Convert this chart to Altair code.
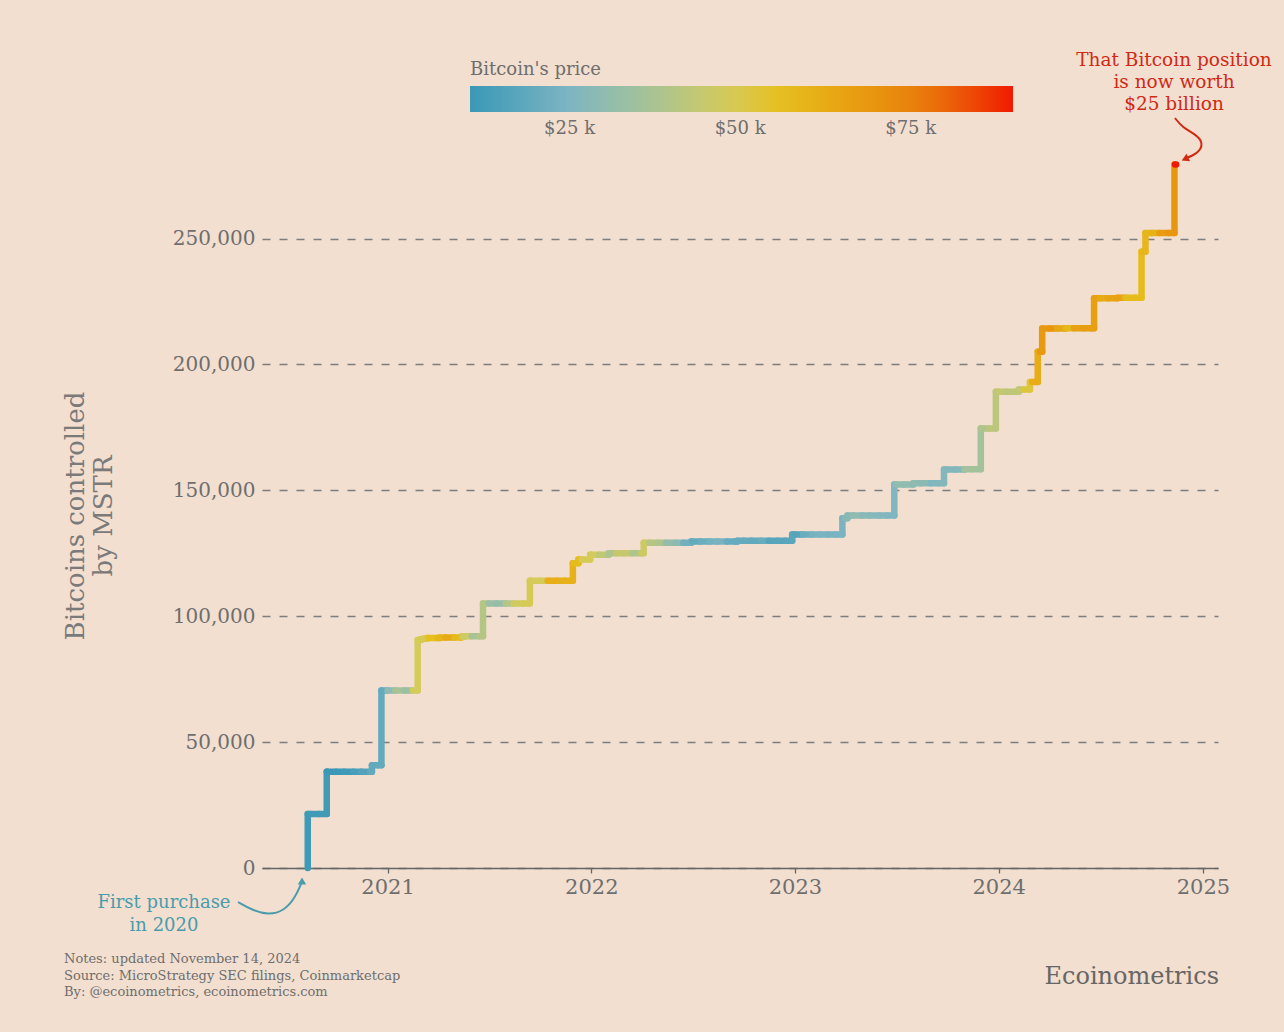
import altair as alt
import pandas as pd

# ---------------- data ----------------
purchase_dates = ["2020-08-11", "2020-09-14", "2020-12-04", "2020-12-21", "2021-02-24", "2021-03-01",
                  "2021-03-05", "2021-03-12", "2021-04-05", "2021-05-13", "2021-05-18", "2021-06-21",
                  "2021-09-13", "2021-11-29", "2021-12-09", "2021-12-30", "2022-02-01", "2022-04-05",
                  "2022-06-29", "2022-09-20", "2022-12-27", "2023-03-27", "2023-04-05", "2023-06-28",
                  "2023-08-01", "2023-09-25", "2023-11-01", "2023-11-30", "2023-12-27", "2024-02-06",
                  "2024-02-26", "2024-03-11", "2024-03-19", "2024-04-29", "2024-06-20", "2024-08-01",
                  "2024-09-13", "2024-09-20", "2024-11-11"]
btc_held = [21454, 38250, 40824, 70470, 90531, 90859,
            91064, 91326, 91579, 91850, 92079, 105085,
            114042, 121044, 122478, 124391, 125051, 129218,
            129699, 130000, 132500, 138955, 140000, 152333,
            152800, 158245, 158400, 174530, 189150, 190000,
            193000, 205000, 214246, 214400, 226331, 226500,
            244800, 252220, 279420]
last_update = "2024-11-14"

price_dates = ["2020-08-01", "2020-08-15", "2020-09-01", "2020-09-15", "2020-10-01", "2020-10-15",
               "2020-11-01", "2020-11-15", "2020-12-01", "2020-12-15",
               "2021-01-01", "2021-01-15", "2021-02-01", "2021-02-15", "2021-03-01", "2021-03-15",
               "2021-04-01", "2021-04-15", "2021-05-01", "2021-05-15", "2021-06-01", "2021-06-15",
               "2021-07-01", "2021-07-15", "2021-08-01", "2021-08-15", "2021-09-01", "2021-09-15",
               "2021-10-01", "2021-10-15", "2021-11-01", "2021-11-15", "2021-12-01", "2021-12-15",
               "2022-01-01", "2022-01-15", "2022-02-01", "2022-02-15", "2022-03-01", "2022-03-15",
               "2022-04-01", "2022-04-15", "2022-05-01", "2022-05-15", "2022-06-01", "2022-06-15",
               "2022-07-01", "2022-07-15", "2022-08-01", "2022-08-15", "2022-09-01", "2022-09-15",
               "2022-10-01", "2022-10-15", "2022-11-01", "2022-11-15", "2022-12-01", "2022-12-15",
               "2023-01-01", "2023-01-15", "2023-02-01", "2023-02-15", "2023-03-01", "2023-03-15",
               "2023-04-01", "2023-04-15", "2023-05-01", "2023-05-15", "2023-06-01", "2023-06-15",
               "2023-07-01", "2023-07-15", "2023-08-01", "2023-08-15", "2023-09-01", "2023-09-15",
               "2023-10-01", "2023-10-15", "2023-11-01", "2023-11-15", "2023-12-01", "2023-12-15",
               "2024-01-01", "2024-01-15", "2024-02-01", "2024-02-15", "2024-03-01", "2024-03-15",
               "2024-04-01", "2024-04-15", "2024-05-01", "2024-05-15", "2024-06-01", "2024-06-15",
               "2024-07-01", "2024-07-15", "2024-08-01", "2024-08-15", "2024-09-01", "2024-09-15",
               "2024-10-01", "2024-10-15", "2024-11-01", "2024-11-12"]
btc_price = [11300, 11800, 11900, 10400, 10600, 11500,
             13700, 16000, 18800, 19400,
             29400, 36800, 33500, 47900, 49600, 56000,
             59000, 63000, 57800, 46400, 36700, 40200,
             33500, 31800, 39900, 47100, 48800, 48100,
             48200, 61600, 61300, 60400, 57200, 48900,
             47700, 43100, 38700, 44600, 44400, 39300,
             46300, 40500, 38500, 31300, 29800, 22600,
             19300, 20800, 23300, 24100, 20100, 19700,
             19300, 19100, 20500, 16900, 17100, 17400,
             16600, 20900, 23700, 24300, 23600, 24400,
             28500, 30300, 28100, 27200, 26800, 25600,
             30600, 30300, 29700, 29200, 25900, 26600,
             27000, 27000, 35400, 35600, 38700, 41900,
             44200, 42500, 43100, 51900, 62400, 68400,
             69700, 63400, 58200, 66200, 67500, 66000,
             62700, 64800, 65300, 57600, 57300, 59200,
             60800, 67000, 69500, 90000]

legend_ticks = [25000, 50000, 75000]
y_ticks = [0, 50000, 100000, 150000, 200000, 250000]
x_tick_years = [2021, 2022, 2023, 2024, 2025]

# colour stops of the price scale
color_stops = [10400, 25000, 36000, 48000, 56000, 66000, 74000, 82000, 90000]
color_range = ["#3a98b6", "#7db5c2", "#a4c29a", "#d4cb5c", "#e6c01e", "#e8a012", "#e8880c",
               "#ec5a08", "#f01a00"]

# ---------------- build step segments ----------------
pdts = pd.to_datetime(pd.Series(purchase_dates))
prdts = pd.to_datetime(pd.Series(price_dates))
end = pd.Timestamp(last_update)


def price_at(d):
    idx = prdts.searchsorted(d, side="right") - 1
    return btc_price[max(idx, 0)]


def held_at(d):
    idx = pdts.searchsorted(d, side="right") - 1
    return btc_held[idx] if idx >= 0 else 0


knots = sorted(set(list(pdts) + [d for d in prdts if pdts.iloc[0] < d < end] + [end]))
rows = []
for a, b in zip(knots[:-1], knots[1:]):
    h = held_at(a)
    rows.append(dict(t=a, t2=b, v=h, v2=h, price=price_at(a), k=1))
for i, d in enumerate(pdts):
    prev = btc_held[i - 1] if i > 0 else 0
    rows.append(dict(t=d, t2=d, v=prev, v2=btc_held[i], price=price_at(d), k=0))
seg = pd.DataFrame(rows).sort_values(["t", "k"]).reset_index(drop=True)
seg["o"] = range(len(seg))

FONT = "DejaVu Serif"
GREY = "#6e6e6e"

xscale = alt.Scale(domain=[alt.DateTime(year=2020, month=5, date=21),
                           alt.DateTime(year=2025, month=1, date=28)])
yscale = alt.Scale(domain=[0, 280000], nice=False, zero=True)

line = alt.Chart(seg).mark_rule(strokeWidth=6.5, strokeCap="round").encode(
    x=alt.X("t:T", scale=xscale,
            axis=alt.Axis(values=[alt.DateTime(year=y, month=1, date=1) for y in x_tick_years],
                          format="%Y", title=None, grid=False, tickSize=5, tickColor="#666666",
                          tickWidth=1.3, domainColor="#666666", domainWidth=1.6,
                          labelFont=FONT, labelFontSize=21, labelColor=GREY, labelPadding=3)),
    x2="t2:T",
    y=alt.Y("v:Q", scale=yscale,
            axis=alt.Axis(values=y_ticks, format=",.0f", title=["Bitcoins controlled", "by MSTR"],
                          domain=False, ticks=False, grid=True, gridDash=[8, 9],
                          gridColor="#7d7d7d", gridWidth=1.5,
                          labelFont=FONT, labelFontSize=20, labelColor=GREY, labelPadding=7,
                          titleFont=FONT, titleFontSize=26, titleColor="#7a7a7a",
                          titleFontWeight="normal", titlePadding=56)),
    y2="v2:Q",
    order="o:Q",
    color=alt.Color("price:Q",
                    scale=alt.Scale(domain=color_stops, range=color_range, interpolate="rgb"),
                    legend=alt.Legend(orient="none", direction="horizontal",
                                      legendX=208, legendY=-102,
                                      title="Bitcoin's price", titleFont=FONT, titleFontSize=18,
                                      titleColor=GREY, titleFontWeight="normal", titlePadding=7,
                                      gradientLength=543, gradientThickness=26,
                                      gradientStrokeWidth=0, values=legend_ticks,
                                      labelExpr="'$' + format(datum.value / 1000, 'd') + ' k'",
                                      labelFont=FONT, labelFontSize=18, labelColor=GREY,
                                      labelOffset=8)),
)

# ---------------- annotations ----------------
ann_first = alt.Chart(pd.DataFrame({"t": ["First purchase\nin 2020"]})).mark_text(
    font=FONT, fontSize=18, color="#4a9bab", align="center", baseline="middle",
    lineBreak="\n", lineHeight=23).encode(text="t:N", x=alt.value(-98), y=alt.value(740))

ann_worth = alt.Chart(pd.DataFrame({"t": ["That Bitcoin position\nis now worth\n$25 billion"]})).mark_text(
    font=FONT, fontSize=18.5, color="#d02a14", align="center", baseline="middle",
    lineBreak="\n", lineHeight=22).encode(text="t:N", x=alt.value(912), y=alt.value(-103))

# arrow paths (pixel positions relative to plot origin)
arrow1 = pd.DataFrame({"px": [238, 252, 268, 284, 295, 301], "py": [902, 910, 915, 911, 898, 884],
                       "i": range(6)})
arrow1["px"] -= 262
arrow1["py"] -= 163
arrow2 = pd.DataFrame({"px": [1175, 1182, 1195, 1203, 1200, 1192, 1186], "py": [118, 127, 134, 142, 151, 156, 158],
                       "i": range(7)})
arrow2["px"] -= 262
arrow2["py"] -= 163

a1 = alt.Chart(arrow1).mark_line(interpolate="basis", stroke="#4a9bab", strokeWidth=2).encode(
    x=alt.X("px:Q", scale=None), y=alt.Y("py:Q", scale=None), order="i:Q")
a1h = alt.Chart(pd.DataFrame({"px": [302 - 262], "py": [881 - 163]})).mark_point(
    shape="triangle-up", filled=True, size=70, color="#4a9bab", opacity=1).encode(
    x=alt.X("px:Q", scale=None), y=alt.Y("py:Q", scale=None))
a2 = alt.Chart(arrow2).mark_line(interpolate="basis", stroke="#d02a14", strokeWidth=2).encode(
    x=alt.X("px:Q", scale=None), y=alt.Y("py:Q", scale=None), order="i:Q")
a2h = alt.Chart(pd.DataFrame({"px": [1185 - 262], "py": [159 - 163]})).mark_point(
    shape="triangle-up", filled=True, size=70, color="#d02a14", opacity=1, angle=245).encode(
    x=alt.X("px:Q", scale=None), y=alt.Y("py:Q", scale=None))

notes = alt.Chart(pd.DataFrame({"t": ["Notes: updated November 14, 2024\n"
                                      "Source: MicroStrategy SEC filings, Coinmarketcap\n"
                                      "By: @ecoinometrics, ecoinometrics.com"]})).mark_text(
    font=FONT, fontSize=13, color=GREY, align="left", baseline="middle",
    lineBreak="\n", lineHeight=16.5).encode(text="t:N", x=alt.value(64 - 262), y=alt.value(959 - 163))

brand = alt.Chart(pd.DataFrame({"t": ["Ecoinometrics"]})).mark_text(
    font=FONT, fontSize=24, color="#666666", align="right", baseline="middle").encode(
    text="t:N", x=alt.value(1219 - 262), y=alt.value(977 - 163))

chart = alt.layer(line, a1, a1h, a2, a2h, ann_first, ann_worth, notes, brand).properties(
    width=956, height=705,
    background="#f2dfd0",
    padding={"left": 262, "top": 163, "right": 66, "bottom": 164},
    autosize=alt.AutoSizeParams(type="none"),
).configure_view(stroke=None)

chart.save("out.html", embed_options={"renderer": "svg", "actions": False})
